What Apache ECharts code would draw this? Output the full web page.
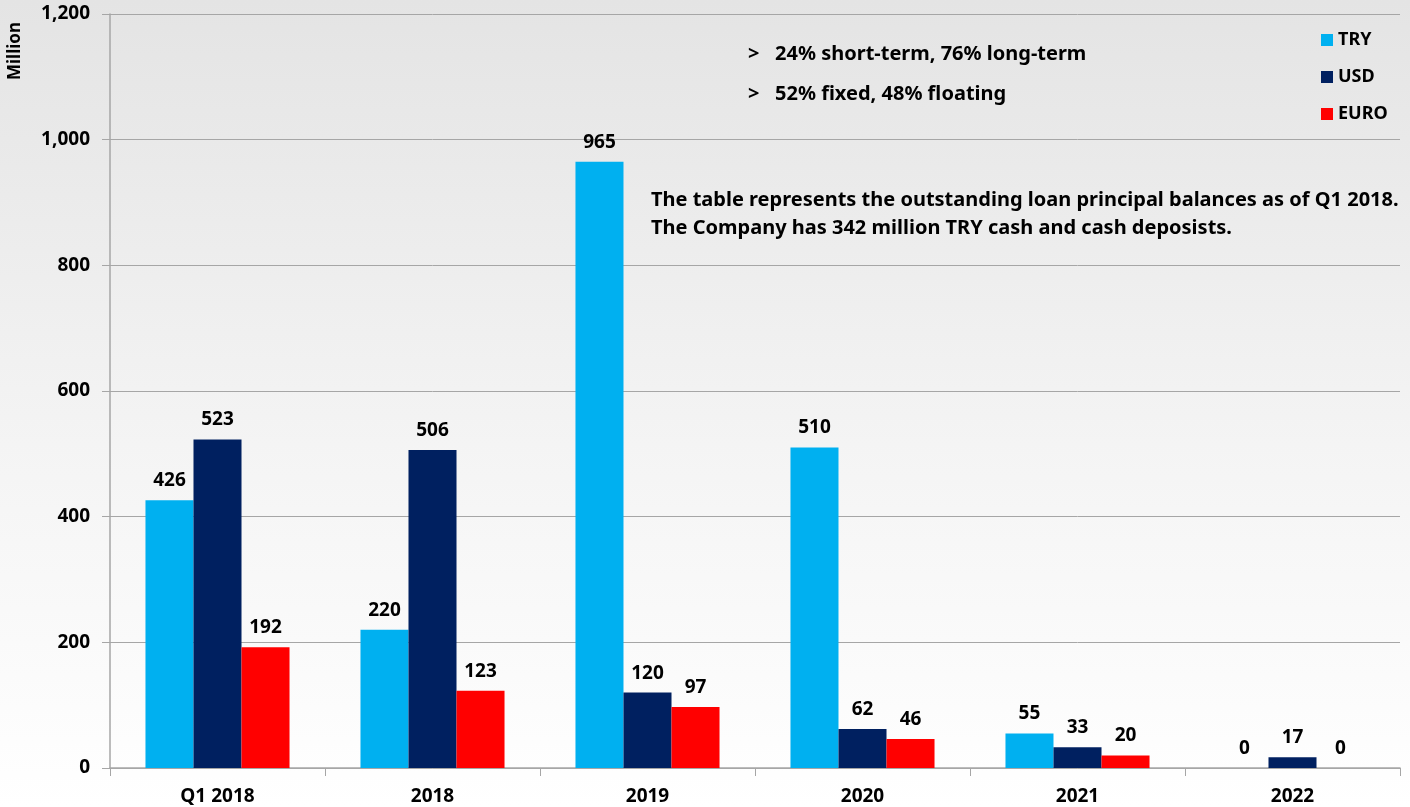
<!DOCTYPE html>
<html>
<head>
<meta charset="utf-8">
<script src="https://cdn.jsdelivr.net/npm/echarts@6/dist/echarts.min.js"></script>
<style>
  html, body { margin: 0; padding: 0; }
  #chart {
    width: 1410px;
    height: 807px;
    background: linear-gradient(to bottom, #e4e4e4 0%, #f4f4f4 55%, #ffffff 100%);
  }
</style>
</head>
<body>
<div id="chart"></div>
<script>
const categories = ['Q1 2018', '2018', '2019', '2020', '2021', '2022']
const tryValues = [426, 220, 965, 510, 55, 0]
const usdValues = [523, 506, 120, 62, 33, 17]
const euroValues = [192, 123, 97, 46, 20, 0]
const yTicks = [0, 200, 400, 600, 800, 1000, 1200]

const font = '"Noto Sans", sans-serif'

const chart = echarts.init(document.getElementById('chart'))

// 柱子上方的数字
const barLabel = {
  show: true,
  position: 'top',
  distance: 10,
  color: '#000',
  fontFamily: font,
  fontWeight: 'bold',
  fontSize: 19
}

chart.setOption({
  animation: false,
  grid: {
    left: 110,
    right: 10,
    top: 14,
    bottom: 39,
    containLabel: false
  },
  legend: {
    orient: 'vertical',
    left: 1316,
    top: 26,
    itemWidth: 12,
    itemHeight: 12,
    itemGap: 19,
    icon: 'rect',
    textStyle: {
      fontFamily: font,
      fontWeight: 'bold',
      fontSize: 18,
      color: '#000'
    },
    data: ['TRY', 'USD', 'EURO']
  },
  xAxis: {
    type: 'category',
    data: categories,
    axisLine: { lineStyle: { color: '#a6a6a6', width: 1.5 } },
    axisTick: { show: true, length: 8, lineStyle: { color: '#a6a6a6' } },
    axisLabel: {
      color: '#000',
      fontFamily: font,
      fontWeight: 'bold',
      fontSize: 19,
      margin: 19
    }
  },
  yAxis: {
    type: 'value',
    min: yTicks[0],
    max: yTicks[yTicks.length - 1],
    interval: 200,
    axisLine: { show: true, lineStyle: { color: '#a6a6a6', width: 1.5 } },
    axisTick: { show: true, inside: false, length: 8, lineStyle: { color: '#a6a6a6' } },
    splitLine: { lineStyle: { color: '#a6a6a6', width: 1 } },
    axisLabel: {
      color: '#000',
      fontFamily: font,
      fontWeight: 'bold',
      fontSize: 19,
      margin: 20,
      formatter: v => v.toLocaleString('en-US')
    }
  },
  series: [
    {
      name: 'TRY',
      type: 'bar',
      data: tryValues,
      barGap: '0%',
      barCategoryGap: '33%',
      itemStyle: { color: '#00b0f0' },
      label: barLabel
    },
    {
      name: 'USD',
      type: 'bar',
      data: usdValues,
      itemStyle: { color: '#002060' },
      label: barLabel
    },
    {
      name: 'EURO',
      type: 'bar',
      data: euroValues,
      itemStyle: { color: '#ff0000' },
      label: barLabel
    }
  ],
  graphic: [
    {
      type: 'text',
      left: 7,
      top: 22,
      rotation: Math.PI / 2,
      style: {
        text: 'Million',
        fill: '#000',
        font: 'bold 17px ' + font
      }
    },
    {
      type: 'text',
      left: 748,
      top: 44,
      style: {
        text: '>   24% short-term, 76% long-term',
        fill: '#000',
        font: 'bold 20px ' + font
      }
    },
    {
      type: 'text',
      left: 748,
      top: 84,
      style: {
        text: '>   52% fixed, 48% floating',
        fill: '#000',
        font: 'bold 20px ' + font
      }
    },
    {
      type: 'text',
      left: 651,
      top: 186,
      style: {
        text: 'The table represents the outstanding loan principal balances as of Q1 2018.\nThe Company has 342 million TRY cash and cash deposists.',
        fill: '#000',
        font: 'bold 20px ' + font,
        lineHeight: 28
      }
    }
  ]
})
</script>
</body>
</html>
